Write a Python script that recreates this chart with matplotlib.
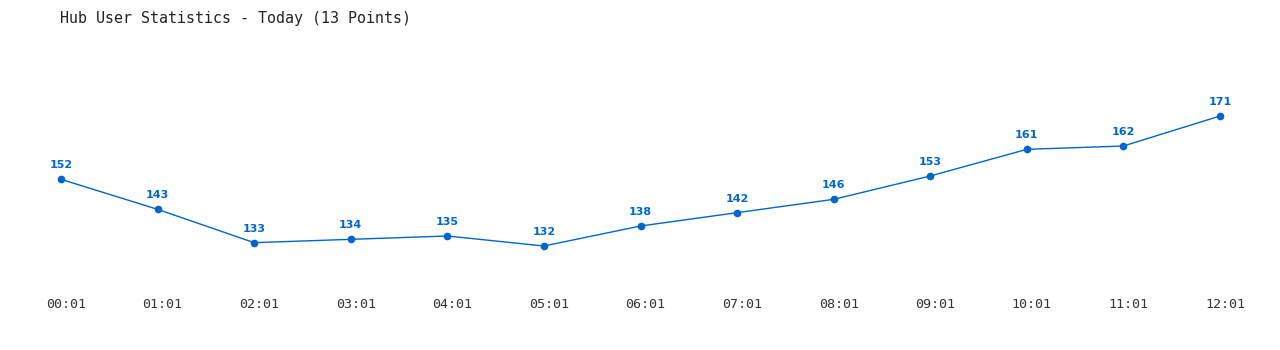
import matplotlib
matplotlib.use('Agg')
import matplotlib.pyplot as plt
import matplotlib.transforms as mtrans

times = ['00:01', '01:01', '02:01', '03:01', '04:01', '05:01', '06:01',
         '07:01', '08:01', '09:01', '10:01', '11:01', '12:01']
users = [152, 143, 133, 134, 135, 132, 138, 142, 146, 153, 161, 162, 171]

blue = '#0066cc'

fig = plt.figure(figsize=(12.8, 3.5), dpi=100)
# axes box: left edge at first point, right edge at last point
ax = fig.add_axes([61/1280, 1 - 290/350, (1220 - 61)/1280, 250/350])

x = list(range(len(times)))
ax.plot(x, users, color=blue, linewidth=1, marker='o', markersize=4.5,
        clip_on=False)

for xi, v in zip(x, users):
    ax.annotate(str(v), (xi, v), xytext=(0, 6.5), textcoords='offset points',
                ha='center', va='bottom', color=blue, fontsize=8,
                fontweight='bold', family='DejaVu Sans')

ax.set_xlim(0, len(times) - 1)
ax.set_ylim(118.8, 193.8)
ax.set_xticks(x)
ax.set_xticklabels(times, family='DejaVu Sans Mono', fontsize=9.6,
                   color='#333333')
ax.tick_params(axis='x', length=0, pad=6)
# labels sit a few pixels right of the points in the original
shift = mtrans.ScaledTranslation(5/100, 0, fig.dpi_scale_trans)
for lab in ax.get_xticklabels():
    lab.set_transform(lab.get_transform() + shift)
ax.set_yticks([])
for s in ax.spines.values():
    s.set_visible(False)

fig.text(60/1280, 1 - 18/350, 'Hub User Statistics - Today (13 Points)',
         family='DejaVu Sans Mono', fontsize=10.8, color='#222222',
         ha='left', va='center')

fig.savefig('out.png', dpi=100, facecolor='white')
